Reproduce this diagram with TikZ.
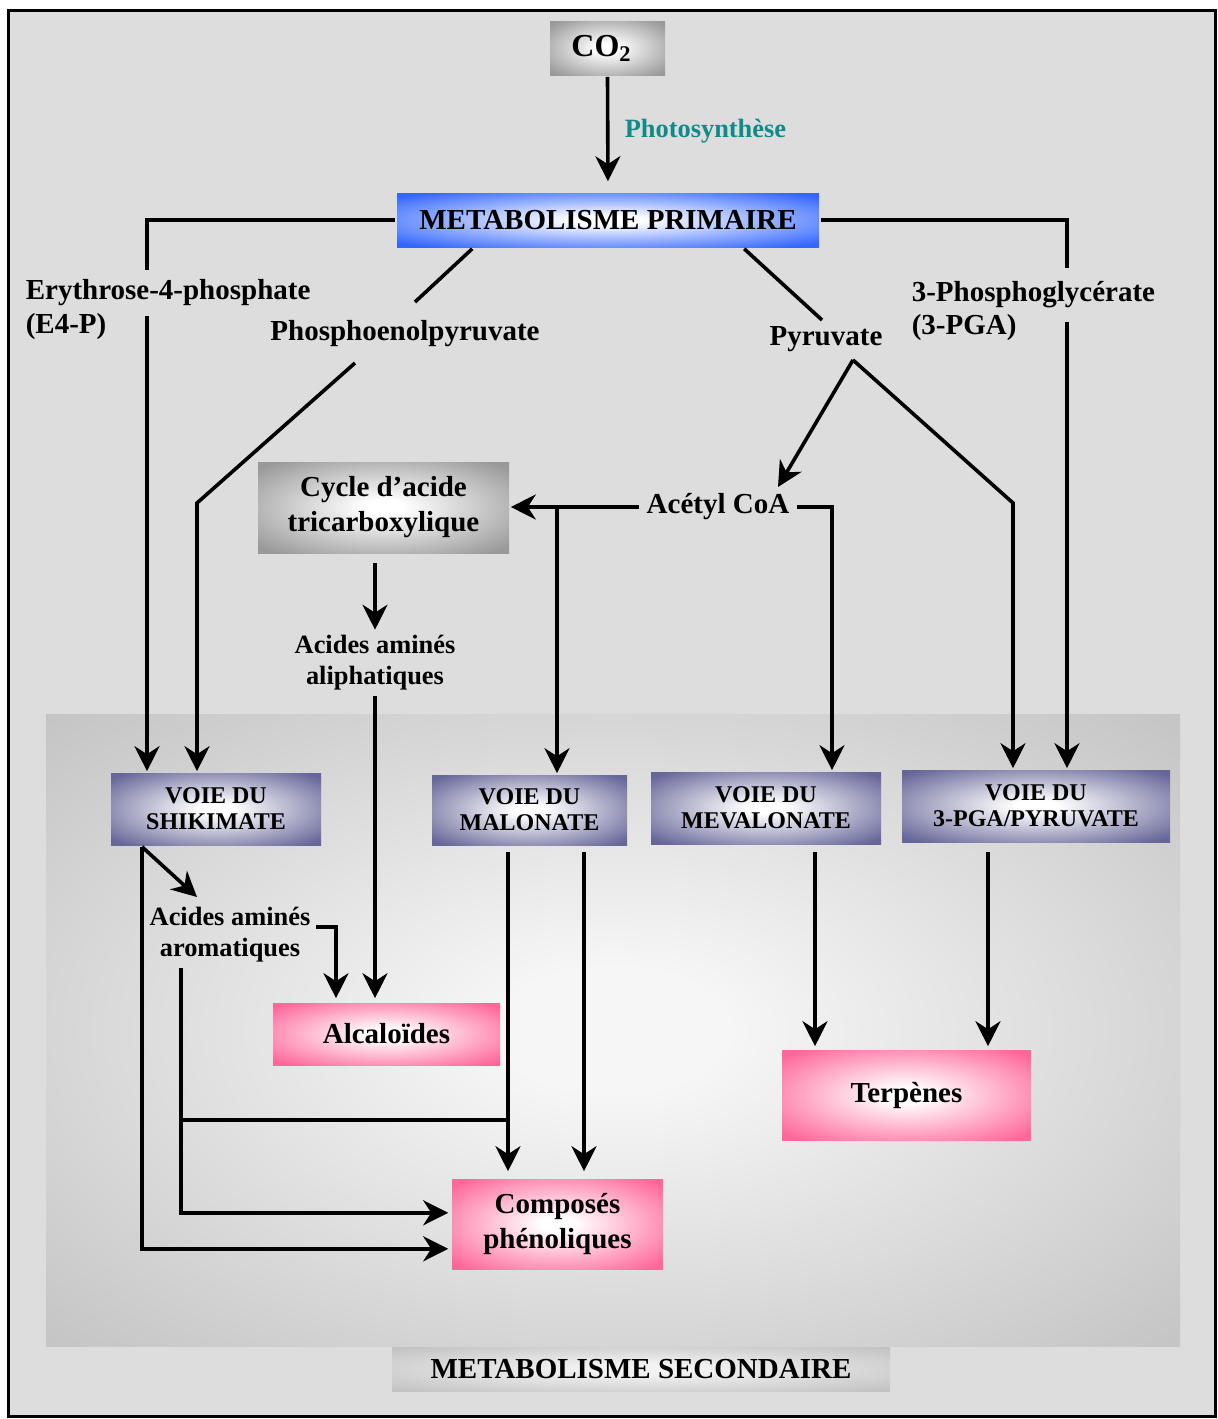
\documentclass[tikz,border=0pt]{standalone}
\usepackage{fontspec}
\setmainfont{Liberation Serif}
\usetikzlibrary{arrows.meta,calc}
\definecolor{bgc}{HTML}{DDDDDD}
\definecolor{cGray}{HTML}{999999}
\definecolor{cBlue}{HTML}{3366FF}
\definecolor{cPurp}{HTML}{666699}
\definecolor{cPink}{HTML}{FF6699}
\definecolor{cSec}{HTML}{C0C0C0}
\definecolor{cSecIn}{HTML}{F6F6F6}
\definecolor{cLabIn}{HTML}{F2F2F2}
\definecolor{cTeal}{HTML}{138A8A}
\pgfdeclareradialshading{gGray}{\pgfpoint{0bp}{0bp}}{color(0bp)=(white); color(4bp)=(white); color(33bp)=(cGray); color(100bp)=(cGray)}
\pgfdeclareradialshading{gBlue}{\pgfpoint{0bp}{0bp}}{color(0bp)=(white); color(4bp)=(white); color(33bp)=(cBlue); color(100bp)=(cBlue)}
\pgfdeclareradialshading{gPurp}{\pgfpoint{0bp}{0bp}}{color(0bp)=(white); color(4bp)=(white); color(33bp)=(cPurp); color(100bp)=(cPurp)}
\pgfdeclareradialshading{gPink}{\pgfpoint{0bp}{0bp}}{color(0bp)=(white); color(4bp)=(white); color(33bp)=(cPink); color(100bp)=(cPink)}
\pgfdeclareradialshading{gRegion}{\pgfpoint{0bp}{0bp}}{color(0bp)=(cSecIn); color(5bp)=(cSecIn); color(38bp)=(cSec); color(100bp)=(cSec)}
\pgfdeclareradialshading{gSecLab}{\pgfpoint{0bp}{0bp}}{color(0bp)=(cLabIn); color(6bp)=(cLabIn); color(36bp)=(cSec); color(100bp)=(cSec)}
\begin{document}
\begin{tikzpicture}[x=0.5pt,y=-0.5pt,line width=1.8pt,
  arr/.style={-{Stealth[length=12.5pt,width=12.5pt,inset=4pt]}},
  bigfont/.style={font=\bfseries\fontsize{14.5}{17.5}\selectfont},
  box/.style={bigfont,draw=none,inner sep=0pt,align=center},
  voie/.style={box,shading=gPurp,font=\bfseries\fontsize{12}{13}\selectfont},
  pinkbox/.style={box,shading=gPink},
  lbl/.style={bigfont,align=center,inner sep=2pt},
  smlbl/.style={font=\bfseries\fontsize{13.2}{15.5}\selectfont,align=center,inner sep=2pt}]
\useasboundingbox (0,0) rectangle (1218,1419);
% background and frame
\fill[white] (0,0) rectangle (1218,1419);
\fill[bgc] (8,10) rectangle (1215,1416);
\shade[shading=gRegion] (46,714) rectangle (1180,1346);
\draw[line width=1.5pt] (8,10) rectangle (1215,1416);

% boxes
\node[box,shading=gGray,minimum width=57.5pt,minimum height=27pt,font=\bfseries\fontsize{16}{18}\selectfont] (co2) at (607.5,48) {CO\textsubscript{2}\hspace*{6pt}};
\node[box,shading=gBlue,minimum width=211pt,minimum height=27pt] (prim) at (608,220) {METABOLISME PRIMAIRE};
\node[box,shading=gGray,minimum width=125.5pt,minimum height=45.5pt] (cycle) at (383.5,507.5) {Cycle d’acide\\tricarboxylique};
\node[voie,minimum width=105pt,minimum height=36pt] (shik) at (216,809) {VOIE DU\\SHIKIMATE};
\node[voie,minimum width=97.5pt,minimum height=35pt] (malon) at (529.5,810) {VOIE DU\\MALONATE};
\node[voie,minimum width=115pt,minimum height=36pt] (meval) at (766,808) {VOIE DU\\MEVALONATE};
\node[voie,minimum width=134pt,minimum height=36pt] (pga) at (1036,806) {VOIE DU\\3-PGA/PYRUVATE};
\node[pinkbox,minimum width=113.5pt,minimum height=31pt] (alc) at (386.5,1034) {Alcaloïdes};
\node[pinkbox,minimum width=124.5pt,minimum height=45pt] (terp) at (906.5,1095) {Terpènes};
\node[pinkbox,minimum width=105.5pt,minimum height=45pt] (comp) at (557.5,1224) {Composés\\phénoliques};
\node[box,shading=gSecLab,minimum width=249pt,minimum height=22pt] (sec) at (641,1369) {METABOLISME SECONDAIRE};

% labels
\node[smlbl,text=cTeal,anchor=west,inner sep=0pt] (photo) at (623,131) {Photosynthèse};
\node[lbl] (pep) at (405,334) {Phosphoenolpyruvate};
\node[lbl] (pyr) at (826,339) {Pyruvate};
\node[lbl,inner sep=3pt] (acetyl) at (718,507) {Acétyl CoA};
\node[smlbl] (aliph) at (375,663) {Acides aminés\\aliphatiques};
\node[smlbl] (arom) at (230,935) {Acides aminés\\aromatiques};

% helper coordinates
\coordinate (xE) at (147,0);
\coordinate (xG) at (1067,0);
\coordinate (xM) at (557,0);
\coordinate (xV) at (832,0);
\coordinate (xS) at (142,0);
\coordinate (xAr) at (181,0);
\coordinate (xAl) at (336,0);
\coordinate (xC1) at (508,0);
\coordinate (xC2) at (584,0);
\coordinate (xT1) at (815,0);
\coordinate (xT2) at (988,0);
\coordinate (pe1) at (415,302);
\coordinate (pe2) at (355,363);
\coordinate (pe3) at (197,503);
\coordinate (py1) at (822,320);
\coordinate (py2) at (853,360);
\coordinate (py3) at (778,487);
\coordinate (py4) at (1013,503);
\coordinate (sh2) at (197,897);
\coordinate (j1) at (181,1120);
\coordinate (j2) at (508,1120);

% connectors
\draw[arr,shorten >=5pt] (co2.south) -- (prim.north);
\draw[arr] (prim.west) -| (shik.north -| xE);
\draw[arr] (prim.east) -| (pga.north -| xG);
\draw ($(prim.south west)+(77,0)$) -- (pe1);
\draw[arr] (pe2) -- (pe3) -- (shik.north -| pe3);
\draw ($(prim.south west)+(349,0)$) -- (py1);
\draw[arr] (py2) -- (py3);
\draw[arr] (py2) -- (py4) -- (pga.north -| py4);
\draw[arr] (acetyl.west) -- (acetyl.west -| cycle.east);
\draw[arr] (acetyl.west -| xM) -- (malon.north -| xM);
\draw[arr] (acetyl.east) -| (meval.north -| xV);
\draw[arr,shorten <=4pt] (cycle.south -| aliph.north) -- (aliph.north);
\draw[arr,shorten >=1.5pt] (aliph.south) -- (alc.north -| aliph.south);
\coordinate (s1) at (shik.south west -| xS);
\draw[arr] (s1) -- (sh2);
\draw[arr,shorten >=1pt] (s1) |- ($(comp.south west)+(0,-22)$);
\draw[arr,shorten >=1.5pt] ($(arom.east)+(0,-8)$) -| (alc.north -| xAl);
\draw[arr,shorten >=1pt] (arom.south -| xAr) |- ($(comp.south west)+(0,-58)$);
\draw (j1) -- (j2);
\draw[arr,shorten <=2.5pt,shorten >=3pt] (malon.south -| xC1) -- (comp.north -| xC1);
\draw[arr,shorten <=2.5pt,shorten >=3pt] (malon.south -| xC2) -- (comp.north -| xC2);
\draw[arr,shorten <=3pt,shorten >=1pt] (meval.south -| xT1) -- (terp.north -| xT1);
\draw[arr,shorten <=4pt,shorten >=1pt] (pga.south -| xT2) -- (terp.north -| xT2);

% labels that interrupt lines
\node[lbl,fill=bgc,anchor=west,inner xsep=1pt,inner ysep=5pt] (e4p) at (22,293) {Erythrose-4-phosphate};
\node[lbl,anchor=west,inner xsep=1pt] (e4pb) at (22,327) {(E4-P)};
\node[lbl,fill=bgc,anchor=west,inner xsep=1pt,inner ysep=7pt] (pga1) at (908,295) {3-Phosphoglycérate};
\node[lbl,anchor=west,inner xsep=1pt] (pga2) at (908,328) {(3-PGA)};
\end{tikzpicture}
\end{document}
